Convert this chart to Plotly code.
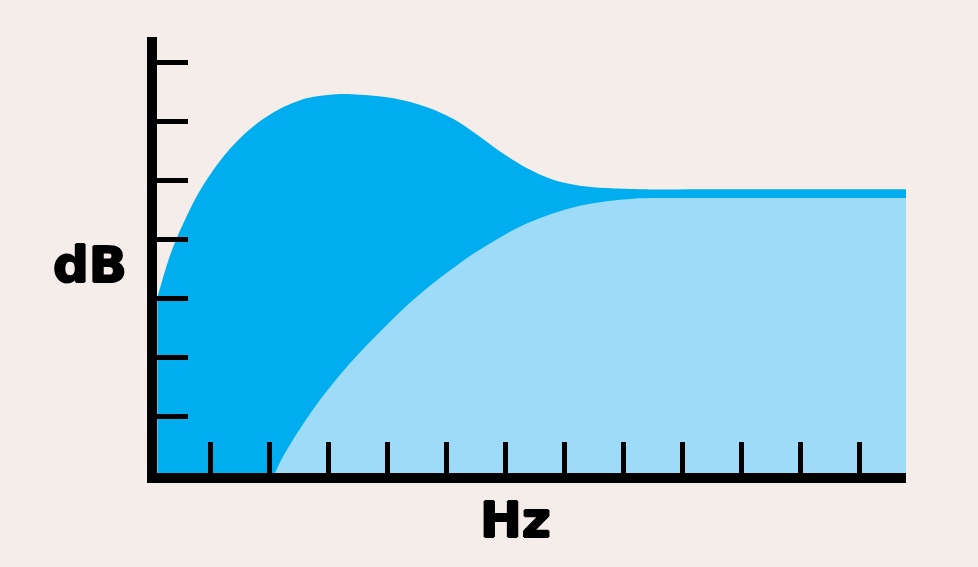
import plotly.graph_objects as go

# response curves, x in Hz-tick units, y in dB-tick units
peak_x = [0.09, 0.31, 0.53, 0.87, 1.38, 1.94, 2.51, 3.13, 3.53, 4.09, 4.66, 5.11, 5.50, 5.90,
          6.35, 6.80, 7.25, 7.71, 8.27, 9.6, 11.1, 12.78]
peak_y = [3.02, 3.75, 4.28, 4.93, 5.61, 6.09, 6.37, 6.47, 6.46, 6.40, 6.25, 6.05, 5.79, 5.50,
          5.22, 5.02, 4.92, 4.88, 4.86, 4.86, 4.86, 4.86]

flat_x = [2.06, 2.25, 2.76, 3.33, 3.89, 4.46, 5.02, 5.56, 6.35, 7.25, 8.16, 8.9, 10.2, 11.5, 12.78]
flat_y = [0.0, 0.38, 1.17, 1.88, 2.47, 3.01, 3.46, 3.84, 4.28, 4.58, 4.70, 4.71, 4.71, 4.71, 4.71]

x_ticks = list(range(1, 13))
y_ticks = list(range(1, 8))

bg = '#f5ede9'
dark_blue = '#00aeef'
light_blue = '#9ddbf8'

fig = go.Figure()
fig.add_trace(go.Scatter(x=peak_x, y=peak_y, mode='lines', fill='tozeroy',
                         line=dict(color=dark_blue, width=0, shape='spline', smoothing=1),
                         fillcolor=dark_blue, hoverinfo='skip'))
fig.add_trace(go.Scatter(x=flat_x, y=flat_y, mode='lines', fill='tozeroy',
                         line=dict(color=light_blue, width=0, shape='spline', smoothing=1),
                         fillcolor=light_blue, hoverinfo='skip'))

axis_style = dict(showline=True, linewidth=10, linecolor='black', ticks='inside',
                  ticklen=31, tickwidth=5, tickcolor='black', showticklabels=False,
                  showgrid=False, zeroline=False, mirror=False, fixedrange=True)

# fake a heavier weight than the installed fonts have
heavy = '1px 0 0 black, -1px 0 0 black, 0 1px 0 black, 0 -1px 0 black'
label_font = dict(family='DejaVu Sans', size=50, color='black', weight='bold', shadow=heavy)

fig.update_layout(
    width=978, height=567, autosize=False,
    margin=dict(l=157, r=72, t=37, b=94),
    paper_bgcolor=bg, plot_bgcolor=bg,
    showlegend=False,
    xaxis=dict(range=[0.085, 12.78], tickvals=x_ticks, **axis_style),
    yaxis=dict(range=[0.05, 7.44], tickvals=y_ticks, **axis_style),
    annotations=[
        dict(text='dB', xref='paper', yref='paper', x=-0.0895, y=0.477,
             xanchor='center', yanchor='middle', showarrow=False, font=label_font),
        dict(text='Hz', xref='paper', yref='paper', x=0.479, y=-0.108,
             xanchor='center', yanchor='middle', showarrow=False, font=label_font),
    ],
)

fig.write_html("out.html", config={'displayModeBar': False},
               post_script="document.body.style.margin='0';")
